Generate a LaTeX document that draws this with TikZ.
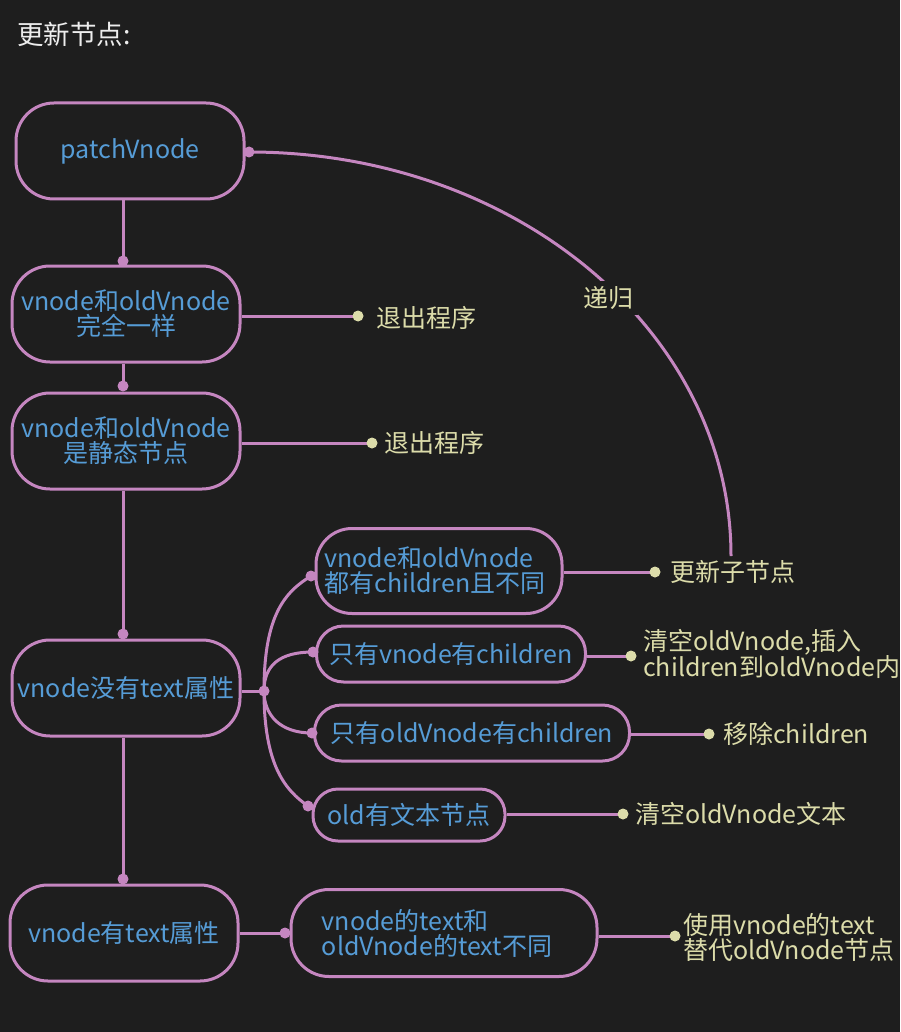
\documentclass[tikz,border=0pt]{standalone}
\usepackage{fontspec}
\setmainfont{Noto Sans CJK SC}
\definecolor{bg}{HTML}{1E1E1E}
\definecolor{edge}{HTML}{C586C0}
\definecolor{ntext}{HTML}{569CD6}
\definecolor{ltext}{HTML}{DCDCAA}
\definecolor{titlec}{HTML}{EDEDED}
\newcommand\myfs{\fontsize{25}{25}\selectfont}
\begin{document}
\begin{tikzpicture}[x=1pt,y=-1pt,
  box/.style={draw=edge, line width=3pt, fill=bg, text=ntext, font=\myfs, align=center, inner sep=0pt},
  lbl/.style={text=ltext, font=\myfs, anchor=west, align=left, inner sep=0pt},
  con/.style={draw=edge, line width=3pt},
  dotp/.style={circle, fill=edge, minimum size=10pt, inner sep=0pt},
  dotl/.style={circle, fill=ltext, minimum size=10pt, inner sep=0pt}]
\fill[bg] (0,0) rectangle (900,1032);
\useasboundingbox (0,0) rectangle (900,1032);
% title
\node[text=titlec, anchor=west, font=\fontsize{26.5}{27}\selectfont, inner sep=0pt] (title) at (17,34) {更新节点:};
% main column
\node[box, minimum width=228, minimum height=96, rounded corners=38] (p) at (130,151) {patchVnode};
\node[box, minimum width=228, minimum height=96, rounded corners=38] (a) at (126,314) {vnode和oldVnode\\完全一样};
\node[box, minimum width=228, minimum height=96, rounded corners=38] (b) at (126,441) {vnode和oldVnode\\是静态节点};
\node[box, minimum width=228, minimum height=96, rounded corners=38] (c) at (126,688) {vnode没有text属性};
\node[box, minimum width=228, minimum height=96, rounded corners=38] (d) at (124,933) {vnode有text属性};
% children
\node[box, minimum width=246, minimum height=85, rounded corners=36, align=left] (c1) at (439,571) {vnode和oldVnode\\都有children且不同\hspace*{8pt}};
\node[box, minimum width=269, minimum height=56, rounded corners=27] (c2) at (451,654) {只有vnode有children};
\node[box, minimum width=315, minimum height=56, rounded corners=27] (c3) at (472,733) {只有oldVnode有children};
\node[box, minimum width=192, minimum height=52, rounded corners=25] (c4) at (409,815) {old有文本节点};
\node[box, minimum width=306, minimum height=87, rounded corners=38, align=left] (d1) at (444,933) {vnode的text和\\oldVnode的text不同\hspace*{14pt}};
% pink dots
\node[dotp] (dp0) at (249,152) {};
\node[dotp] (dp1) at (123,261) {};
\node[dotp] (dp2) at (123,386) {};
\node[dotp] (dp3) at (123,634) {};
\node[dotp] (dp4) at (123,879) {};
\node[dotp] (j) at (264,691) {};
\node[dotp] (e1) at (311,576) {};
\node[dotp] (e2) at (313,652) {};
\node[dotp] (e3) at (312,733) {};
\node[dotp] (e4) at (308,806) {};
\node[dotp] (e5) at (285,933) {};
% label dots
\node[dotl] (l1) at (358,316) {};
\node[dotl] (l2) at (372,443) {};
\node[dotl] (l3) at (655,572) {};
\node[dotl] (l4) at (631,656) {};
\node[dotl] (l5) at (709,734) {};
\node[dotl] (l6) at (623,814) {};
\node[dotl] (l7) at (675,936) {};
\coordinate (r) at (731,556);
% connectors
\draw[con] (dp1 |- p.south) -- (dp1.center);
\draw[con] (dp2 |- a.south) -- (dp2.center);
\draw[con] (dp3 |- b.south) -- (dp3.center);
\draw[con] (dp4 |- c.south) -- (dp4.center);
\draw[con] (c.east |- j) -- (j.center);
\draw[con] (j.center) .. controls (264,615) and (285,592) .. (e1.center);
\draw[con] (j.center) .. controls (264,665) and (280,652) .. (e2.center);
\draw[con] (j.center) .. controls (264,715) and (280,733) .. (e3.center);
\draw[con] (j.center) .. controls (264,765) and (285,790) .. (e4.center);
\draw[con] (d.east) -- (e5.center);
\draw[con] (a.east |- l1) -- (l1.center);
\draw[con] (b.east |- l2) -- (l2.center);
\draw[con] (c1.east |- l3) -- (l3.center);
\draw[con] (c2.east |- l4) -- (l4.center);
\draw[con] (c3.east |- l5) -- (l5.center);
\draw[con] (c4.east |- l6) -- (l6.center);
\draw[con] (d1.east |- l7) -- (l7.center);
\draw[con] (p.east |- dp0) -- (dp0.center);
\draw[con] (dp0.center) .. controls (516,152) and (731,332) .. (r);
% redraw dots on top
\foreach \n in {dp0,dp1,dp2,dp3,dp4,j,e1,e2,e3,e4,e5} \fill[edge] (\n) circle (5.5);
\foreach \n in {l1,l2,l3,l4,l5,l6,l7} \fill[ltext] (\n) circle (5.5);
% labels
\node[fill=bg, text=ltext, font=\myfs, inner sep=5pt] (rec) at (608,298) {递归};
\node[lbl] (t1) at (376,318) {退出程序};
\node[lbl] (t2) at (384,443) {退出程序};
\node[lbl] (t3) at (670,572) {更新子节点};
\node[lbl] (t4) at (643,654) {清空oldVnode,插入\\children到oldVnode内};
\node[lbl] (t5) at (723,734) {移除children};
\node[lbl] (t6) at (635,814) {清空oldVnode文本};
\node[lbl] (t7) at (683,937) {使用vnode的text\\替代oldVnode节点};
\end{tikzpicture}
\end{document}
